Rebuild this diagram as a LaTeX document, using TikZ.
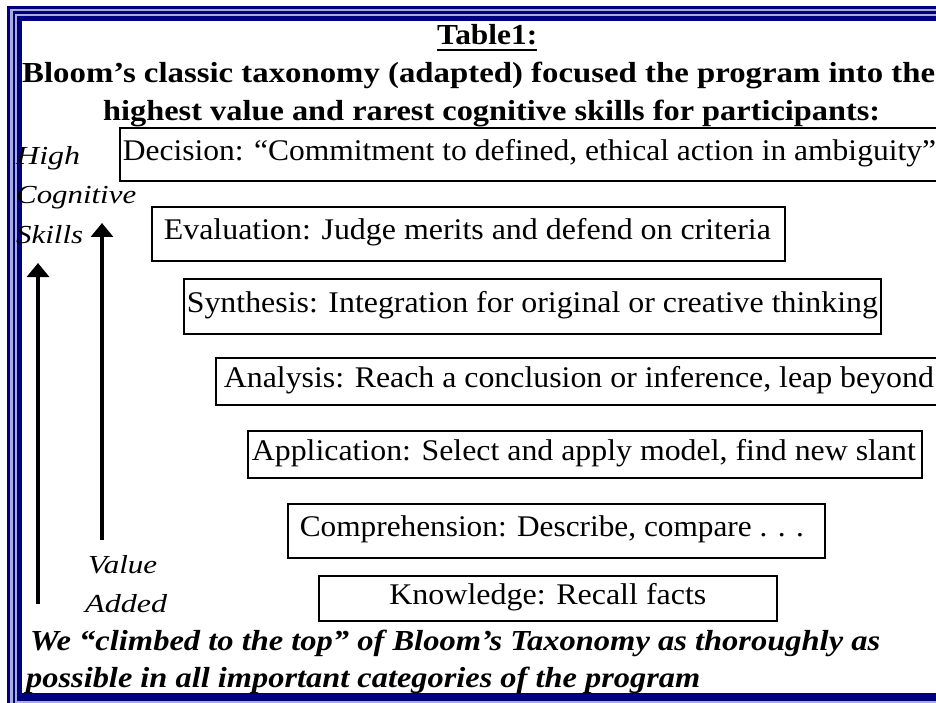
\documentclass[tikz,border=0pt]{standalone}
\usepackage{fontspec}
\setmainfont{Liberation Serif}
\usetikzlibrary{arrows.meta}
\definecolor{framenavy}{RGB}{0,0,128}
\definecolor{framegap}{RGB}{172,172,216}
% stretch a text horizontally to a given width, keeping its height
\newcommand\fitw[2]{\resizebox{#1}{\height}{#2}}
\newcommand\tstrut{\rule[-0.3em]{0pt}{0.96em}}
% box content: total width, left offset, text width, text
\newcommand\tierL[4]{\makebox[#1][l]{\hspace*{#2}\fitw{#3}{#4}\tstrut}}
% box content: total width, text width, text (centred)
\newcommand\tierC[3]{\makebox[#1][c]{\fitw{#2}{#3}\tstrut}}

\begin{document}
\begin{tikzpicture}[x=1pt,y=-1pt,
  tier/.style={draw, line width=1.7pt, inner sep=0pt, anchor=north west,
    font=\fontsize{30}{34}\selectfont},
  heading/.style={inner sep=0pt, anchor=base west,
    font=\bfseries\fontsize{29}{32}\selectfont},
  sidelabel/.style={inner sep=0pt, anchor=base west,
    font=\itshape\fontsize{26}{30}\selectfont},
  closing/.style={inner sep=0pt, anchor=base west,
    font=\bfseries\itshape\fontsize{29}{32}\selectfont},
  climb/.style={line width=3.2pt, -{Triangle[length=14pt,width=22pt]}}]
\useasboundingbox (0,0) rectangle (936,703);
\clip (0,0) rectangle (936,703);

% triple-line page frame
\fill[framenavy] (7,6) rectangle (950,720);
\fill[framegap]  (10,9) rectangle (950,720);
\fill[framenavy] (12.7,11) rectangle (950,720);
\fill[framegap]  (15,14) rectangle (950,720);
\fill[framenavy] (17.3,16) rectangle (950,700.5);
\fill[white]     (22.3,20.7) rectangle (950,693);

% heading
\node[heading] (title) at (437,45) {\fitw{100pt}{Table1:}};
\draw[line width=2.2pt] ([yshift=-5pt]title.base west) -- ([yshift=-5pt]title.base east);
\node[heading] (head1) at (22,83)
  {\fitw{913pt}{Bloom’s classic taxonomy (adapted) focused the program into the}};
\node[heading] (head2) at (103,121)
  {\fitw{777pt}{highest value and rarest cognitive skills for participants:}};

% taxonomy levels
\node[tier, minimum height=53] (decision) at (119,127)
  {\tierL{831pt}{3pt}{813pt}{Decision: “Commitment to defined, ethical action in ambiguity”}};
\node[tier, minimum height=54] (evaluation) at (151,206)
  {\tierL{633pt}{12pt}{607pt}{Evaluation: Judge merits and defend on criteria}};
\node[tier, minimum height=55] (synthesis) at (183,278)
  {\tierL{697pt}{3pt}{691pt}{Synthesis: Integration for original or creative thinking}};
\node[tier, minimum height=47] (analysis) at (215,357)
  {\tierL{735pt}{8pt}{710pt}{Analysis: Reach a conclusion or inference, leap beyond}};
\node[tier, minimum height=47] (application) at (247,430)
  {\tierL{674pt}{4pt}{664pt}{Application: Select and apply model, find new slant}};
\node[tier, minimum height=54] (comprehension) at (287,503)
  {\tierL{537pt}{12pt}{504pt}{Comprehension: Describe, compare . . .}};
\node[tier, minimum height=45] (knowledge) at (318,575)
  {\tierC{458pt}{317pt}{Knowledge: Recall facts}};

% side labels
\node[sidelabel] (high) at (16,165) {\fitw{64pt}{High}};
\node[sidelabel] (cognitive) at (16,204) {\fitw{120pt}{Cognitive}};
\node[sidelabel] (skills) at (16,243) {\fitw{67pt}{Skills}};
\node[sidelabel] (value) at (88,573) {\fitw{69pt}{Value}};
\node[sidelabel] (added) at (85,612) {\fitw{82pt}{Added}};

% rising arrows
\coordinate (skillsLow) at (38,604);
\coordinate (skillsTop) at (38,263);
\coordinate (valueLow) at (102,540);
\coordinate (valueTop) at (102,223);
\draw[climb] (skillsLow) -- (skillsTop);
\draw[climb] (valueLow) -- (valueTop);

% closing remark
\node[closing] (close1) at (30,650)
  {\fitw{850pt}{We “climbed to the top” of Bloom’s Taxonomy as thoroughly as}};
\node[closing] (close2) at (26,687)
  {\fitw{674pt}{possible in all important categories of the program}};
\end{tikzpicture}
\end{document}
